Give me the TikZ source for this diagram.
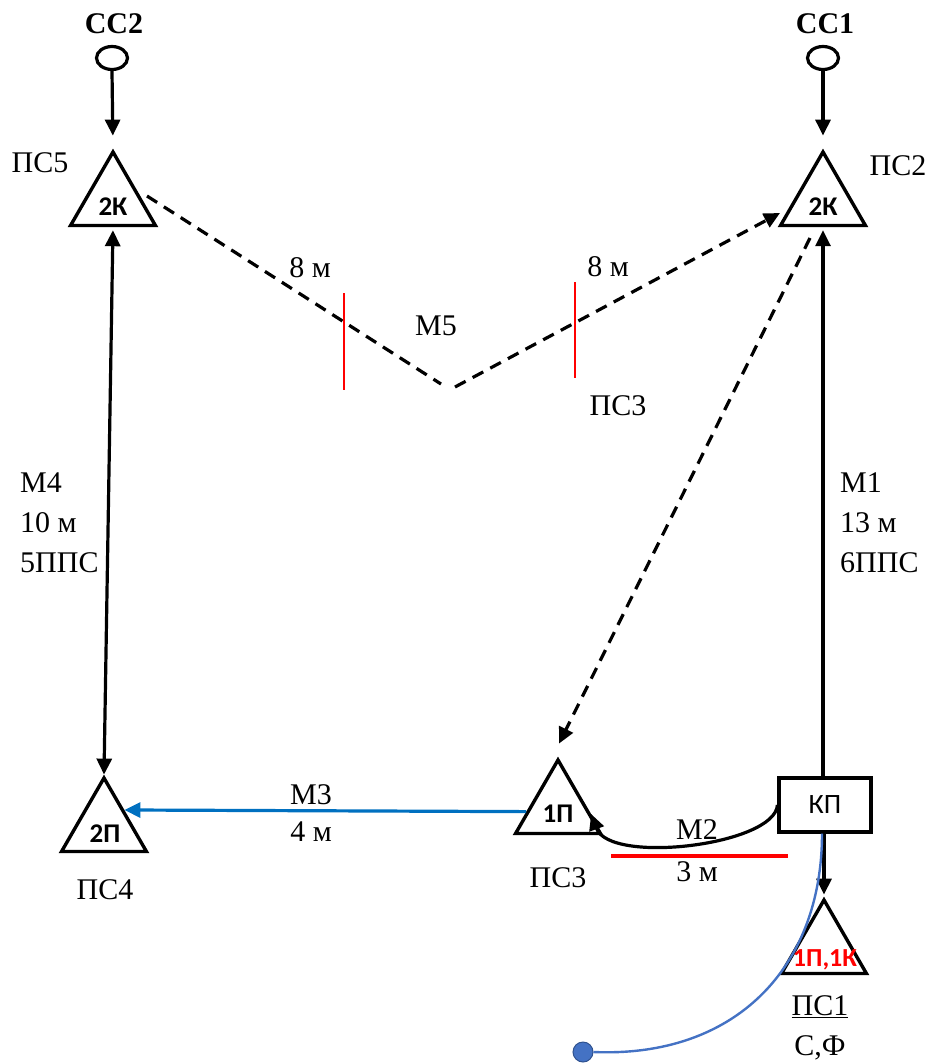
\documentclass[tikz,border=0pt]{standalone}
\usepackage{fontspec}
\setmainfont{Liberation Serif}
\newfontfamily\calfont{Carlito}
\usetikzlibrary{arrows.meta,shapes.geometric,calc}
\definecolor{mthree}{HTML}{0070C0}
\definecolor{curveblue}{HTML}{4472C4}
\definecolor{dotedge}{HTML}{2F528F}
\begin{document}
\begin{tikzpicture}[x=1pt,y=-1pt,
  tri/.style={draw,line width=3.4pt,regular polygon,regular polygon sides=3,minimum size=98pt,inner sep=0pt},
  lbl/.style={font=\fontsize{30}{34}\selectfont,inner sep=0pt},
  bl/.style={font=\bfseries\fontsize{30}{33}\selectfont,inner sep=0pt},
  tl/.style={font=\calfont\bfseries\fontsize{27}{30}\selectfont,inner sep=0pt},
  ln/.style={line width=3.2pt},
  tipend/.style={-{Triangle[length=16pt,width=15pt]}},
  tipboth/.style={{Triangle[length=16pt,width=15pt]}-{Triangle[length=16pt,width=15pt]}},
  dsh/.style={line width=3.2pt,dash pattern=on 12pt off 8pt},
  sc/.style={draw,ellipse,line width=3.2pt,minimum width=31pt,minimum height=23pt,inner sep=0pt},
  redtick/.style={draw=red,line width=2.6pt}
]
\useasboundingbox (0,0) rectangle (928,1063);

% source circles
\node[sc] (cc2) at (112,58) {};
\node[sc] (cc1) at (823,58) {};
\node[bl] (cc2t) at (114,24) {СС2};
\node[bl] (cc1t) at (825,24) {СС1};

% triangles
\node[tri] (t5) at (113,201) {};
\node[tri] (t2) at (823,201) {};
\node[tri] (t4) at (104,827) {};
\node[tri] (t3) at (558,809) {};
\node[tri] (t1) at (824,949) {};

\node[tl] (t5l) at (113,207) {2К};
\node[tl] (t2l) at (823,207) {2К};
\node[tl] (t4l) at (105,834) {2П};
\node[tl] (t3l) at (558,814) {1П};
\node[tl,text=red,font=\calfont\bfseries\fontsize{26}{28}\selectfont] (t1l) at (825,960) {1П,1К};

% KP box
\node[draw,line width=3.2pt,minimum width=92pt,minimum height=54pt,inner sep=0pt,
      font=\calfont\fontsize{28}{30}\selectfont] (kp) at (825,805) {КП};

% station labels
\node[lbl] (ps5) at (40,163) {ПС5};
\node[lbl] (ps2) at (898,166) {ПС2};
\node[lbl] (ps4) at (105,890) {ПС4};
\node[lbl] (ps3) at (558,878) {ПС3};
\node[lbl] (ps3b) at (618,406) {ПС3};
\node[lbl] (ps1) at (820,1007) {\underline{ПС1}};
\node[lbl] (sf) at (820,1048) {С,Ф};

% line labels
\node[lbl] (d8a) at (310,268) {8 м};
\node[lbl] (d8b) at (608,267) {8 м};
\node[lbl] (m5) at (436,326) {М5};
\node[lbl,anchor=west] (m4a) at (20,483) {М4};
\node[lbl,anchor=west] (m4b) at (20,523) {10 м};
\node[lbl,anchor=west] (m4c) at (20,563) {5ППС};
\node[lbl,anchor=west] (m1a) at (840,483) {М1};
\node[lbl,anchor=west] (m1b) at (840,523) {13 м};
\node[lbl,anchor=west] (m1c) at (840,563) {6ППС};
\node[lbl] (m3a) at (311,795) {М3};
\node[lbl] (m3b) at (311,832) {4 м};
\node[lbl] (m2a) at (697,830) {М2};
\node[lbl] (m2b) at (697,872) {3 м};

% arrows from sources
\draw[ln,tipend,shorten >=13pt] (cc2.south) -- (t5.corner 1);
\draw[ln,tipend,shorten >=13pt] (cc1.south) -- (t2.corner 1);

% M4
\draw[ln,tipboth,shorten <=3pt] (t5.side 2) -- (t4.corner 1);
% M1
\draw[ln,tipend,shorten >=3pt] (t2.side 2 |- kp.north) -- (t2.side 2);
% KP -> PS1
\draw[ln,tipend,shorten >=2pt] (t1.corner 1 |- kp.south) -- (t1.corner 1);

% M5 dashed V
\coordinate (v1) at (441,384);
\coordinate (v2) at (455,387);
\coordinate (m5s) at (147,196);
\coordinate (m5e) at (780,213);
\draw[dsh] (m5s) -- (v1);
\draw[dsh,tipend] (v2) -- (m5e);
\draw[redtick] (344,293) -- (344,390);
\draw[redtick] (575,282) -- (575,378);

% PS2 -> PS3 dashed
\coordinate (d2s) at (810,238);
\draw[dsh,tipend] (d2s) -- ($(t3.corner 1)+(1,-13)$);

% M3 blue
\draw[line width=3.2pt,draw=mthree,-{Triangle[length=16pt,width=15pt]}]
  ($(t3.corner 1)!0.7!(t3.corner 2)$) -- ($(t4.corner 1)!0.45!(t4.corner 3)$);

% M2 curve
\draw[ln,tipend] (kp.west) .. controls (775,845) and (610,865) .. ($(t3.corner 1)!0.73!(t3.corner 3)$);
\draw[draw=red,line width=3.4pt] (611,856) -- (788,856);

% blue curve to dot
\node[circle,fill=curveblue,draw=dotedge,line width=1pt,minimum size=20pt,inner sep=0pt] (dot) at (583,1052) {};
\draw[draw=curveblue,line width=2.4pt] ($(kp.south)+(-3,0)$) .. controls (822,968) and (735,1058) .. (dot.east);
\end{tikzpicture}
\end{document}
